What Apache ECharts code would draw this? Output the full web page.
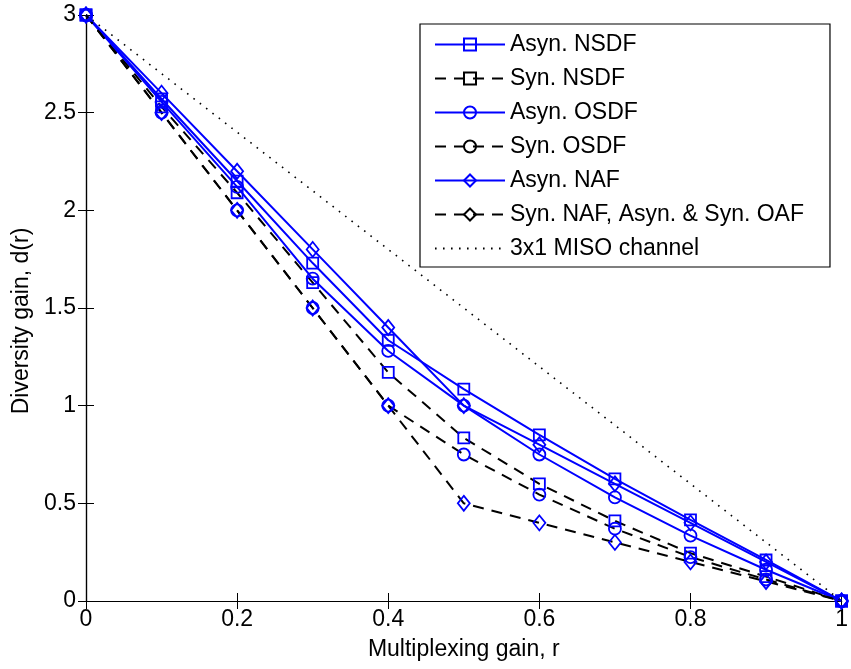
<!DOCTYPE html>
<html>
<head>
<meta charset="utf-8">
<script src="https://cdn.jsdelivr.net/npm/echarts@6/dist/echarts.min.js"></script>
<style>
html,body{margin:0;padding:0;background:#fff;}
#chart{width:851px;height:669px;}
</style>
</head>
<body>
<div id="chart"></div>
<script>
const r = [0, 0.1, 0.2, 0.3, 0.4, 0.5, 0.6, 0.7, 0.8, 0.9, 1];
const asynNSDF = [3, 2.57, 2.15, 1.73, 1.335, 1.085, 0.85, 0.625, 0.415, 0.21, 0];
const synNSDF  = [3, 2.53, 2.09, 1.63, 1.17, 0.835, 0.60, 0.41, 0.245, 0.125, 0];
const asynOSDF = [3, 2.555, 2.12, 1.65, 1.28, 1.0, 0.75, 0.53, 0.335, 0.16, 0];
const synOSDF  = [3, 2.5, 2.0, 1.5, 1.0, 0.75, 0.545, 0.37, 0.225, 0.11, 0];
const asynNAF  = [3, 2.6, 2.2, 1.8, 1.4, 1.0, 0.8, 0.6, 0.4, 0.2, 0];
const synNAF   = [3, 2.5, 2.0, 1.5, 1.0, 0.5, 0.4, 0.3, 0.2, 0.1, 0];
const misoR = [0, 1];
const miso  = [3, 0];
const names = ['Asyn. NSDF', 'Syn. NSDF', 'Asyn. OSDF', 'Syn. OSDF', 'Asyn. NAF', 'Syn. NAF, Asyn. & Syn. OAF', '3x1 MISO channel'];
const xTicks = [0, 0.2, 0.4, 0.6, 0.8, 1];
const yTicks = [0, 0.5, 1, 1.5, 2, 2.5, 3];

const pairs = (xs, ys) => xs.map((x, i) => [x, ys[i]]);
const FONT = 'Liberation Sans, Arial, sans-serif';
const BLUE = '#0000ff';

function mk(name, ys, symbol, size, dashed) {
  return {
    name: name, type: 'line', data: pairs(r, ys),
    symbol: symbol, symbolSize: size, showAllSymbol: true,
    itemStyle: { color: 'rgba(0,0,0,0)', borderColor: BLUE, borderWidth: 1.8 },
    lineStyle: { color: dashed ? '#000' : BLUE, width: 2, type: dashed ? [11, 8] : 'solid' },
    emphasis: { disabled: true },
    clip: false
  };
}

const chart = echarts.init(document.getElementById('chart'), null, { renderer: 'canvas' });
const axisCommon = {
  type: 'value', min: 0,
  axisLine: { show: true, lineStyle: { color: '#000', width: 1.2 } },
  axisTick: { show: true, inside: true, length: 8, lineStyle: { color: '#000' } },
  splitLine: { show: false }
};
chart.setOption({
  animation: false,
  backgroundColor: '#fff',
  grid: { left: 86, right: 4, top: 15, bottom: 68, containLabel: false },
  xAxis: [
    Object.assign({}, axisCommon, {
      max: 1, interval: 0.2, position: 'bottom',
      name: 'Multiplexing gain, r', nameLocation: 'middle', nameGap: 37,
      nameTextStyle: { fontFamily: FONT, fontSize: 23, color: '#000' },
      axisLabel: { fontFamily: FONT, fontSize: 23, color: '#000', margin: 7,
        formatter: v => xTicks.includes(+v.toFixed(1)) ? String(+v.toFixed(1)) : '' }
    }),
    Object.assign({}, axisCommon, { max: 1, interval: 0.2, position: 'top', axisLabel: { show: false } })
  ],
  yAxis: [
    Object.assign({}, axisCommon, {
      max: 3, interval: 0.5, position: 'left',
      name: 'Diversity gain, d(r)', nameLocation: 'middle', nameGap: 52,
      nameTextStyle: { fontFamily: FONT, fontSize: 23, color: '#000', padding: [0, 26, 0, 0] },
      axisLabel: { fontFamily: FONT, fontSize: 23, color: '#000', margin: 10,
        formatter: v => yTicks.includes(+v.toFixed(1)) ? String(+v.toFixed(1)) : '' }
    }),
    Object.assign({}, axisCommon, { max: 3, interval: 0.5, position: 'right', axisLabel: { show: false } })
  ],
  legend: {
    orient: 'vertical', left: 420, top: 24,
    backgroundColor: '#fff', borderColor: '#000', borderWidth: 1.2,
    padding: [9, 26, 7, 14],
    itemWidth: 70, itemHeight: 15, itemGap: 11,
    textStyle: { fontFamily: FONT, fontSize: 23, color: '#000', lineHeight: 23 },
    data: [
      { name: names[0] },
      { name: names[1], itemStyle: { borderColor: '#000' } },
      { name: names[2] },
      { name: names[3], itemStyle: { borderColor: '#000' } },
      { name: names[4] },
      { name: names[5], itemStyle: { borderColor: '#000' } },
      { name: names[6] }
    ]
  },
  series: [
    mk(names[0], asynNSDF, 'rect', 11, false),
    mk(names[1], synNSDF, 'rect', 11, true),
    mk(names[2], asynOSDF, 'circle', 12, false),
    mk(names[3], synOSDF, 'circle', 12, true),
    mk(names[4], asynNAF, 'diamond', [12, 15], false),
    mk(names[5], synNAF, 'diamond', [12, 15], true),
    {
      name: names[6], type: 'line', data: pairs(misoR, miso), symbol: 'none',
      lineStyle: { color: '#000', width: 1.6, type: [1.6, 6.4] },
      itemStyle: { color: 'rgba(0,0,0,0)', borderWidth: 0 }, emphasis: { disabled: true }
    }
  ]
});
</script>
</body>
</html>
